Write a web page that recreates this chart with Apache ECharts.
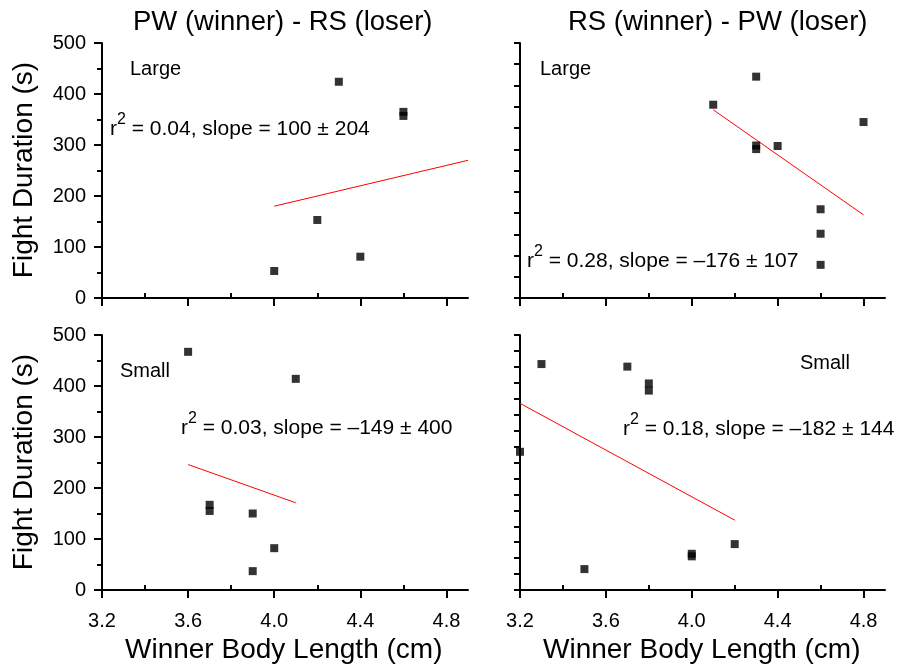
<!DOCTYPE html>
<html><head><meta charset="utf-8">
<script src="https://cdn.jsdelivr.net/npm/echarts@6/dist/echarts.min.js"></script>
<style>html,body{margin:0;padding:0;background:#fff}#c{width:899px;height:667px}</style>
</head><body><div id="c"></div>
<script>
// Panel titles / labels
const colTitles = ['PW (winner) - RS (loser)', 'RS (winner) - PW (loser)'];
const yName = 'Fight Duration (s)';
const xName = 'Winner Body Length (cm)';
const xTicks = [3.2, 3.6, 4.0, 4.4, 4.8];
const xMinorTicks = [3.4, 3.8, 4.2, 4.6];
const yTicks = [0, 100, 200, 300, 400, 500];

// Top-left: PW winner - RS loser, Large
const tlX = [4.0, 4.2, 4.3, 4.4, 4.6, 4.6];
const tlY = [53, 153, 424, 81, 365, 357];
const tlFitX = [4.0, 4.9];
const tlFitY = [180, 270];

// Top-right: RS winner - PW loser, Large
const trX = [4.1, 4.3, 4.3, 4.3, 4.4, 4.6, 4.6, 4.6, 4.8];
const trY = [379, 434, 299, 292, 298, 174, 126, 65, 345];
const trFitX = [4.1, 4.8];
const trFitY = [369, 163];

// Bottom-left: PW winner - RS loser, Small
const blX = [3.6, 4.1, 3.7, 3.7, 3.9, 3.9, 4.0];
const blY = [467, 414, 167, 155, 150, 37, 82];
const blFitX = [3.6, 4.1];
const blFitY = [246, 171];

// Bottom-right: RS winner - PW loser, Small
const brX = [3.2, 3.3, 3.5, 3.7, 3.8, 3.8, 4.0, 4.0, 4.2];
const brY = [271, 443, 41, 438, 405, 391, 71, 66, 90];
const brFitX = [3.2, 4.2];
const brFitY = [366, 137];

const annotations = [
  {size: 'Large', stat: ['0.04', '100 ± 204']},
  {size: 'Large', stat: ['0.28', '–176 ± 107']},
  {size: 'Small', stat: ['0.03', '–149 ± 400']},
  {size: 'Small', stat: ['0.18', '–182 ± 144']}
];

const FONT = '"Liberation Sans", Arial, sans-serif';
const zip = (a, b) => a.map((v, i) => [v, b[i]]);

const grids = [
  {left: 102, top: 43, width: 366, height: 255},
  {left: 520, top: 43, width: 365, height: 255},
  {left: 102, top: 335, width: 366, height: 255},
  {left: 520, top: 335, width: 365, height: 255}
];

const yIntervals = [100, 500 / 12, 100, 31.25];
const AX = {color: '#000', width: 2};

const xAxes = [];
grids.forEach((g, i) => {
  xAxes.push({
    type: 'value', gridIndex: i, min: 3.2, max: 4.9, interval: 0.4,
    axisLine: {show: true, onZero: false, lineStyle: AX},
    axisTick: {show: true, inside: false, length: 8, lineStyle: AX, customValues: xTicks},
    splitLine: {show: false},
    axisLabel: {
      show: i >= 2, color: '#000', fontFamily: FONT, fontSize: 20, margin: 21,
      customValues: xTicks, formatter: v => v.toFixed(1)
    }
  });
});
grids.forEach((g, i) => {
  xAxes.push({
    type: 'value', gridIndex: i, min: 3.2, max: 4.9, interval: 0.4,
    axisLine: {show: false},
    axisTick: {show: true, inside: false, length: 5, lineStyle: AX, customValues: xMinorTicks},
    splitLine: {show: false},
    axisLabel: {show: false}
  });
});

const yAxes = grids.map((g, i) => ({
  type: 'value', gridIndex: i, min: 0, max: 500, interval: yIntervals[i],
  axisLine: {show: true, onZero: false, lineStyle: AX},
  axisTick: {show: true, inside: false, length: i % 2 === 0 ? 8 : 6, lineStyle: AX},
  minorTick: {show: i % 2 === 0, splitNumber: 2, length: 5, lineStyle: AX},
  splitLine: {show: false},
  axisLabel: {
    show: i % 2 === 0, color: '#000', fontFamily: FONT, fontSize: 20, margin: 16,
    formatter: v => yTicks.includes(v) ? String(v) : ''
  }
}));

const pts = [zip(tlX, tlY), zip(trX, trY), zip(blX, blY), zip(brX, brY)];
const fits = [zip(tlFitX, tlFitY), zip(trFitX, trFitY), zip(blFitX, blFitY), zip(brFitX, brFitY)];

const series = [];
pts.forEach((d, i) => series.push({
  type: 'scatter', xAxisIndex: i, yAxisIndex: i, data: d,
  symbol: 'rect', symbolSize: 8, itemStyle: {color: '#000'}, clip: false, z: 3
}));
fits.forEach((d, i) => series.push({
  type: 'line', xAxisIndex: i, yAxisIndex: i, data: d,
  symbol: 'none', lineStyle: {color: '#ff0000', width: 1}, z: 2
}));

const txt = (text, left, top, size) => ({
  text, left, top, padding: 0,
  textStyle: {fontFamily: FONT, fontSize: size, fontWeight: 'normal', color: '#000'}
});

const statText = (a, left, top) => ({
  left, top, padding: 0,
  text: '{a|r}{s|2}{a| = ' + a.stat[0] + ', slope = ' + a.stat[1] + '}',
  textStyle: {
    fontFamily: FONT, fontSize: 21, fontWeight: 'normal', color: '#000',
    rich: {
      a: {fontFamily: FONT, fontSize: 21, color: '#000', verticalAlign: 'bottom', lineHeight: 28},
      s: {fontFamily: FONT, fontSize: 16, color: '#000', verticalAlign: 'top', lineHeight: 28}
    }
  }
});

const titles = [
  txt(colTitles[0], 133, 8, 27.5),
  txt(colTitles[1], 568, 8, 27.5),
  txt(annotations[0].size, 130, 59, 20),
  txt(annotations[1].size, 540, 59, 20),
  txt(annotations[2].size, 120, 361, 20),
  txt(annotations[3].size, 800, 353, 20),
  statText(annotations[0], 110, 112),
  statText(annotations[1], 527, 244),
  statText(annotations[2], 181, 411),
  statText(annotations[3], 623, 412),
  txt(xName, 125, 636, 28),
  txt(xName, 543, 636, 28)
];

const chart = echarts.init(document.getElementById('c'), null, {renderer: 'canvas'});
chart.setOption({
  backgroundColor: '#fff',
  animation: false,
  title: titles,
  grid: grids,
  xAxis: xAxes,
  yAxis: yAxes,
  series: series,
  graphic: [
    {type: 'text', rotation: Math.PI / 2, x: 24, y: 170,
     style: {text: yName, font: '28px ' + FONT, fill: '#000', textAlign: 'center', textVerticalAlign: 'middle'}},
    {type: 'text', rotation: Math.PI / 2, x: 24, y: 462,
     style: {text: yName, font: '28px ' + FONT, fill: '#000', textAlign: 'center', textVerticalAlign: 'middle'}}
  ]
});
</script></body></html>
